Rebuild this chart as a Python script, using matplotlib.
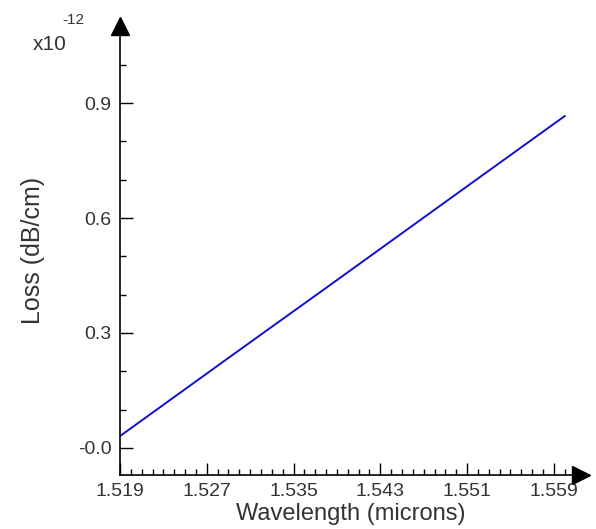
import matplotlib.pyplot as plt

plt.rcParams['font.family'] = ['Liberation Sans', 'DejaVu Sans']

# data (loss in units of 1e-12 dB/cm)
wavelength = [1.519, 1.529, 1.539, 1.549, 1.560]
loss = [0.031, 0.235, 0.438, 0.642, 0.866]

xticks = [1.519, 1.527, 1.535, 1.543, 1.551, 1.559]
xticklabels = ["1.519", "1.527", "1.535", "1.543", "1.551", "1.559"]
yticks = [0.0, 0.3, 0.6, 0.9]
yticklabels = ["-0.0", "0.3", "0.6", "0.9"]

txt = '#333333'
fig = plt.figure(figsize=(5.96, 5.29), dpi=100)
ax = fig.add_axes([120/596, 54/529, 461/596, 449/529])

ax.plot(wavelength, loss, color='#1010d0', lw=1.4)

ax.set_xlim(1.519, 1.5615)
ax.set_ylim(-0.0705, 1.101)
ax.set_xticks(xticks)
ax.set_xticklabels(xticklabels)
ax.set_yticks(yticks)
ax.set_yticklabels(yticklabels)
ax.set_xticks([1.519 + 0.001*i for i in range(43)], minor=True)
ax.set_yticks([-0.1 + 0.1*i for i in range(12) if -0.07 < -0.1 + 0.1*i < 1.1], minor=True)

for s in ['top', 'right']:
    ax.spines[s].set_visible(False)
for s in ['left', 'bottom']:
    ax.spines[s].set_linewidth(1.2)

ax.tick_params(which='major', direction='in', length=9, width=1, labelsize=14, labelcolor=txt, pad=6)
ax.tick_params(which='minor', direction='in', length=4, width=1)

# arrow heads at axis ends
ax.plot(1, 0, '>k', markersize=13, transform=ax.transAxes, clip_on=False)
ax.plot(0, 1, '^k', markersize=13, transform=ax.transAxes, clip_on=False)

ax.set_xlabel('Wavelength (microns)', fontsize=17, color=txt, labelpad=2)
ax.set_ylabel('Loss (dB/cm)', fontsize=18, color=txt, labelpad=24)

fig.text(33/596, 1 - 50/529, 'x10', fontsize=15, color=txt)
fig.text(62/596, 1 - 24/529, '-12', fontsize=11, color=txt)

fig.savefig('out.png', dpi=100)
